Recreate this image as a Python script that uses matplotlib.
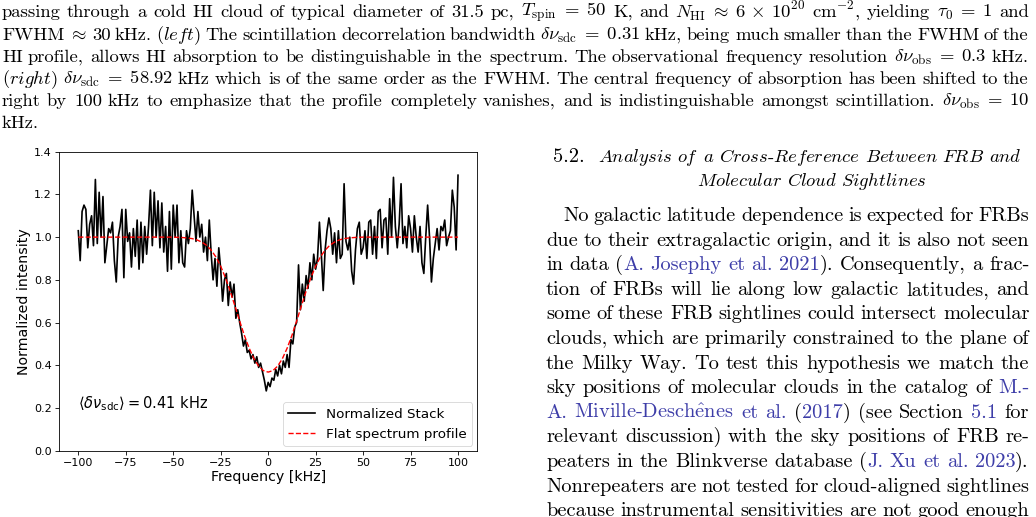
import matplotlib

matplotlib.use("Agg")
import matplotlib.pyplot as plt
import numpy as np

W, H = 1036, 517

# stacked spectrum, one value per kHz from -100 to 100
freq_khz = np.arange(-100, 101)
stack = [
    1.03, 0.89, 1.12, 1.15, 1.13, 0.95, 1.06, 1.10, 0.96, 1.27,   # -100 .. -91
    0.97, 1.21, 1.00, 1.19, 0.88, 0.96, 1.04, 1.02, 1.07, 0.89,   # -90 .. -81
    0.79, 1.00, 1.05, 1.13, 0.81, 1.13, 0.98, 1.02, 0.86, 1.04,   # -80 .. -71
    0.91, 1.08, 0.85, 1.07, 0.88, 1.05, 0.92, 1.05, 1.22, 0.96,   # -70 .. -61
    1.21, 1.00, 1.17, 0.95, 1.16, 0.93, 1.05, 0.84, 1.12, 0.85,   # -60 .. -51
    1.15, 1.00, 1.15, 0.88, 1.03, 0.88, 0.86, 1.03, 0.97, 1.04,   # -50 .. -41
    1.22, 1.10, 0.98, 1.12, 1.00, 1.06, 0.93, 1.00, 0.89, 1.08,   # -40 .. -31
    0.92, 0.80, 0.90, 0.77, 0.95, 0.85, 0.70, 0.80, 0.83, 0.68,   # -30 .. -21
    0.79, 0.72, 0.78, 0.62, 0.66, 0.60, 0.55, 0.49, 0.52, 0.46,   # -20 .. -11
    0.47, 0.43, 0.45, 0.41, 0.44, 0.39, 0.41, 0.37, 0.33, 0.28,   # -10 .. -1
    0.32, 0.30, 0.34, 0.33, 0.38, 0.35, 0.40, 0.36, 0.42, 0.39,   # 0 .. 9
    0.45, 0.39, 0.52, 0.50, 0.58, 0.60, 0.87, 0.66, 0.78, 0.70,   # 10 .. 19
    0.82, 0.76, 0.88, 0.80, 0.92, 0.85, 0.90, 1.07, 0.92, 0.75,   # 20 .. 29
    0.94, 1.03, 1.09, 1.04, 0.92, 1.02, 0.88, 1.03, 0.90, 0.92,   # 30 .. 39
    1.25, 0.98, 0.94, 1.00, 0.84, 0.78, 0.94, 1.04, 1.07, 0.92,   # 40 .. 49
    0.95, 1.03, 0.90, 1.07, 1.08, 0.92, 1.05, 0.90, 1.12, 1.13,   # 50 .. 59
    0.95, 1.08, 1.09, 0.92, 1.18, 1.00, 1.28, 1.05, 0.95, 1.06,   # 60 .. 69
    1.25, 0.97, 1.05, 0.95, 1.10, 1.04, 0.93, 1.10, 1.00, 0.93,   # 70 .. 79
    1.05, 0.88, 0.83, 1.00, 1.15, 1.00, 0.79, 0.90, 0.97, 1.04,   # 80 .. 89
    0.94, 1.05, 1.03, 1.08, 0.96, 1.00, 1.03, 1.22, 1.14, 0.94,   # 90 .. 99
    1.29,                                                        # 100
]

# flat spectrum absorption profile
profile_freq = [-100, -50, -45, -42.5, -40, -37.5, -35, -32.5, -30, -27.5, -25,
                -22.5, -20, -17.5, -15, -12.5, -10, -7.5, -5, -2.5, 0,
                2.5, 5, 7.5, 10, 12.5, 15, 17.5, 20, 22.5, 25, 27.5, 30,
                32.5, 35, 37.5, 40, 42.5, 45, 50, 100]
profile_val = [1.0, 1.0, 0.998, 0.996, 0.993, 0.987, 0.977, 0.962, 0.939, 0.907, 0.864,
               0.810, 0.747, 0.678, 0.607, 0.539, 0.480, 0.431, 0.396, 0.375, 0.368,
               0.375, 0.396, 0.431, 0.480, 0.539, 0.607, 0.678, 0.747, 0.810, 0.864,
               0.907, 0.939, 0.962, 0.977, 0.987, 0.993, 0.996, 0.998, 1.0, 1.0]

x_ticks = [-100, -75, -50, -25, 0, 25, 50, 75, 100]
y_ticks = [0.0, 0.2, 0.4, 0.6, 0.8, 1.0, 1.2, 1.4]

BLUE = "#3d3da8"
SERIF = "cmr10"
plt.rcParams["mathtext.fontset"] = "cm"

# page text; [ ] marks citation (blue) text
caption = [
    r"passing through a cold HI cloud of typical diameter of 31.5 pc, $T_{\mathrm{spin}}\;=\;50$ K, and "
    r"$N_{\mathrm{HI}}\;\approx\;6\,\times\,10^{20}$ cm$^{-2}$, yielding $\tau_0\;=\;1$ and",
    r"FWHM $\approx$ 30 kHz. ($\mathit{left}$) The scintillation decorrelation bandwidth "
    r"$\delta\nu_{\mathrm{sdc}}\;=\;0.31$ kHz, being much smaller than the FWHM of the",
    r"HI profile, allows HI absorption to be distinguishable in the spectrum. The observational "
    r"frequency resolution $\delta\nu_{\mathrm{obs}}\;=\;0.3$ kHz.",
    r"($\mathit{right}$) $\delta\nu_{\mathrm{sdc}}\;=\;58.92$ kHz which is of the same order as the FWHM. "
    r"The central frequency of absorption has been shifted to the",
    r"right by 100 kHz to emphasize that the profile completely vanishes, and is indistinguishable "
    r"amongst scintillation. $\delta\nu_{\mathrm{obs}}\;=\;10$",
    r"kHz.",
]
body = [
    "No galactic latitude dependence is expected for FRBs",
    "due to their extragalactic origin, and it is also not seen",
    "in data ([A. Josephy et al. 2021]). Consequently, a frac-",
    "tion of FRBs will lie along low galactic latitudes, and",
    "some of these FRB sightlines could intersect molecular",
    "clouds, which are primarily constrained to the plane of",
    "the Milky Way. To test this hypothesis we match the",
    "sky positions of molecular clouds in the catalog of [M.-]",
    r"[A. Miville-Desch$\hat{\mathrm{e}}$nes et al.] ([2017]) (see Section [5.1] for",
    "relevant discussion) with the sky positions of FRB re-",
    "peaters in the Blinkverse database ([J. Xu et al. 2023]).",
    "Nonrepeaters are not tested for cloud-aligned sightlines",
    "because instrumental sensitivities are not good enough",
]
heading1 = [r"$\mathit{Analysis}$", r"$\mathit{of}$", r"$\mathit{a}$",
            r"$\mathit{Cross}$-$\mathit{Reference}$", r"$\mathit{Between}$",
            r"$\mathit{FRB}$", r"$\mathit{and}$"]
heading2 = [r"$\mathit{Molecular}$", r"$\mathit{Cloud}$", r"$\mathit{Sightlines}$"]


def split_words(line):
    words, blue = [], False
    for tok in line.split(" "):
        pieces, cur = [], ""
        for ch in tok:
            if ch in "[]":
                if cur:
                    pieces.append((cur, BLUE if blue else "black"))
                cur = ""
                blue = ch == "["
            else:
                cur += ch
        if cur:
            pieces.append((cur, BLUE if blue else "black"))
        words.append(pieces)
    return words


def put_line(fig, rend, words, x0, x1, base, size, justify=True):
    base = round(base)
    objs, widths = [], []
    for pieces in words:
        row, w = [], 0.0
        for txt, col in pieces:
            t = fig.text(0, 1 - base / H, txt, fontsize=size, color=col,
                         family=SERIF, va="baseline", ha="left")
            pw = t.get_window_extent(rend).width
            row.append((t, pw))
            w += pw
        objs.append(row)
        widths.append(w)
    if justify and len(words) > 1:
        gap = (x1 - x0 - sum(widths)) / (len(words) - 1)
    else:
        gap = 0.333 * size * 100 / 72
    x = x0
    for row, w in zip(objs, widths):
        px = x
        for t, pw in row:
            t.set_x(round(px) / W)
            px += pw
        x += w + gap


fig = plt.figure(figsize=(W / 100, H / 100), dpi=100)
rend = fig.canvas.get_renderer()

# --- chart ---
ax = fig.add_axes([59.3 / W, 1 - 450.7 / H, (477 - 59.3) / W, (450.7 - 151.7) / H])
ax.plot(freq_khz, stack, color="black", lw=1.2, label="Normalized Stack")
ax.plot(profile_freq, profile_val, color="red", ls="--", lw=1.0,
        label="Flat spectrum profile")
ax.set_xlim(-110, 110)
ax.set_ylim(0, 1.4)
ax.set_xticks(x_ticks)
ax.set_yticks(y_ticks)
ax.tick_params(labelsize=8.0, length=2.6, width=0.6, pad=2.6)
for sp in ax.spines.values():
    sp.set_linewidth(0.6)
ax.set_xlabel("Frequency [kHz]", fontsize=10.2, labelpad=1.5)
ax.set_ylabel("Normalized intensity", fontsize=10.2, labelpad=2.5)
ax.text(-100, 0.22, r"$\langle\delta\nu_{\mathrm{sdc}}\rangle = 0.41$ kHz",
        fontsize=10.5, va="center", math_fontfamily="dejavusans")
leg = ax.legend(loc="lower right", fontsize=9.7, borderaxespad=0.35,
                handlelength=2.0, fancybox=True)
leg.get_frame().set_linewidth(0.6)

# --- caption above ---
for i, line in enumerate(caption):
    put_line(fig, rend, split_words(line), 1.5, 1029, 17.3 + i * 22.2, 13.4,
             justify=i < len(caption) - 1)

# --- right column ---
fig.text(553 / W, 1 - 162 / H, "5.2.", fontsize=14.7, family=SERIF,
         va="baseline")
put_line(fig, rend, [[(w, "black")] for w in heading1], 598, 1022, 161.7, 13.4)
put_line(fig, rend, [[(w, "black")] for w in heading2], 697, 927, 185.5, 13.4)
for i, line in enumerate(body):
    x0 = 563 if i == 0 else 546
    put_line(fig, rend, split_words(line), x0, 1029, 221 + i * 24.6, 14.7)

fig.savefig("out.png", dpi=100, facecolor="white")
